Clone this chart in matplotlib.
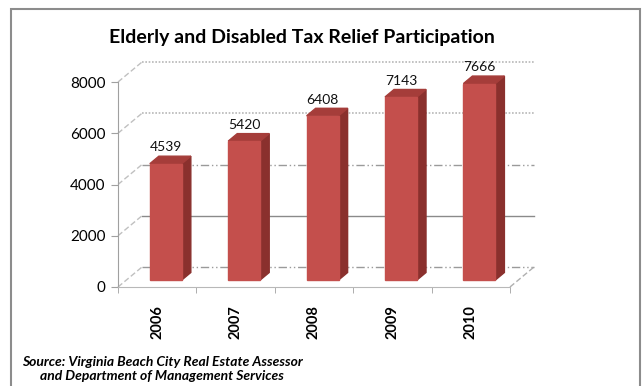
import matplotlib
matplotlib.use("Agg")
from matplotlib import pyplot as plt
from matplotlib.patches import Rectangle
import numpy as np

years = ['2006', '2007', '2008', '2009', '2010']
participants = [4539, 5420, 6408, 7143, 7666]
y_ticks = [0, 2000, 4000, 6000, 8000]

plt.rcParams['font.family'] = ['Lato', 'DejaVu Sans']

# pseudo-3D geometry, in data units (categories along x, values along y)
wall_dx, wall_dy = 0.306, 780      # offset of the back wall
bar_dx, bar_dy = 0.11, 273         # offset of the bar front faces
side_dx, side_dy = 0.115, 293      # bar depth
half_w = 0.204

fig = plt.figure(figsize=(6.42, 3.86), dpi=100)
ax = fig.add_axes([118 / 642, 99 / 386, 422 / 642, 232 / 386])
ax.set_xlim(-0.5, 4.883)
ax.set_ylim(0, 9054)

# back wall gridlines
grid_styles = {
    0: dict(color='#9a9a9a', ls=(0, (6, 2, 1, 2, 1, 2)), lw=1.0),
    2000: dict(color='#8a8a8a', ls='-', lw=1.0),
    4000: dict(color='#9a9a9a', ls=(0, (6, 2, 1, 2, 1, 2)), lw=1.0),
    6000: dict(color='#b8b8b8', ls=(0, (1, 1)), lw=1.2),
    8000: dict(color='#b8b8b8', ls=(0, (1, 1)), lw=1.2),
}
for v in y_ticks:
    ax.plot([-0.5 + wall_dx, 4.5 + wall_dx], [v + wall_dy, v + wall_dy],
            clip_on=False, zorder=1, **grid_styles[v])
    ax.plot([-0.5, -0.5 + wall_dx], [v, v + wall_dy], color='#c0c0c0',
            ls=(0, (4, 2)), lw=1.0, clip_on=False, zorder=1)
ax.plot([4.5, 4.5 + wall_dx], [0, wall_dy], color='#b0b0b0',
        ls=(0, (4, 2)), lw=1.0, clip_on=False, zorder=1)

# bars: side, top, then front face
for i, v in enumerate(participants):
    x0 = i + bar_dx - half_w
    x1 = i + bar_dx + half_w
    y0 = bar_dy
    y1 = bar_dy + v
    ax.fill([x1, x1 + side_dx, x1 + side_dx, x1],
            [y0, y0 + side_dy, y1 + side_dy, y1],
            color='#8a302d', zorder=3, clip_on=False)
    ax.fill([x0, x1, x1 + side_dx, x0 + side_dx],
            [y1, y1, y1 + side_dy, y1 + side_dy],
            color='#a53d3a', zorder=3, clip_on=False)
    ax.fill([x0, x1, x1, x0], [y0, y0, y1, y1],
            color='#c44f4c', zorder=4, clip_on=False)
    ax.annotate(f"{v}", (i + bar_dx, y1 + side_dy), xytext=(0, 2),
                textcoords='offset points', ha='center', va='bottom',
                fontsize=10, color='#111111', zorder=5)

# axes: front y axis and floor edge
for s in ['top', 'right']:
    ax.spines[s].set_visible(False)
ax.spines['left'].set_color('#a0a0a0')
ax.spines['left'].set_bounds(0, 8000)
ax.spines['bottom'].set_color('#b8b8b8')
ax.spines['bottom'].set_linestyle((0, (1, 1)))
ax.spines['bottom'].set_bounds(-0.5, 4.5)
ax.set_yticks(y_ticks)
ax.set_yticklabels([str(t) for t in y_ticks], fontsize=11)
ax.tick_params(axis='y', length=5, color='#a0a0a0', pad=4)
ax.set_xticks(range(len(years)))
ax.set_xticklabels(years, rotation=90, fontsize=10.5, fontweight='bold')
ax.tick_params(axis='x', which='major', length=0, pad=13)
ax.set_xticks(np.arange(-0.5, 5, 1), minor=True)
ax.tick_params(axis='x', which='minor', length=4, color='#a0a0a0')

fig.text(0.47, 1 - 37 / 386, "Elderly and Disabled Tax Relief Participation",
         ha='center', va='center', fontsize=14, fontweight='bold')
fig.text(162 / 642, 1 - 369 / 386,
         "Source: Virginia Beach City Real Estate Assessor\nand Department of Management Services",
         ha='center', va='center', fontsize=10, fontweight='bold', style='italic',
         linespacing=1.3)

fig.patches.append(Rectangle((11 / 642, -0.1), 629 / 642, 1.1 - 9 / 386,
                             transform=fig.transFigure, fill=False,
                             edgecolor='#8c8c8c', lw=1.5))

plt.savefig("out.png", dpi=100)
